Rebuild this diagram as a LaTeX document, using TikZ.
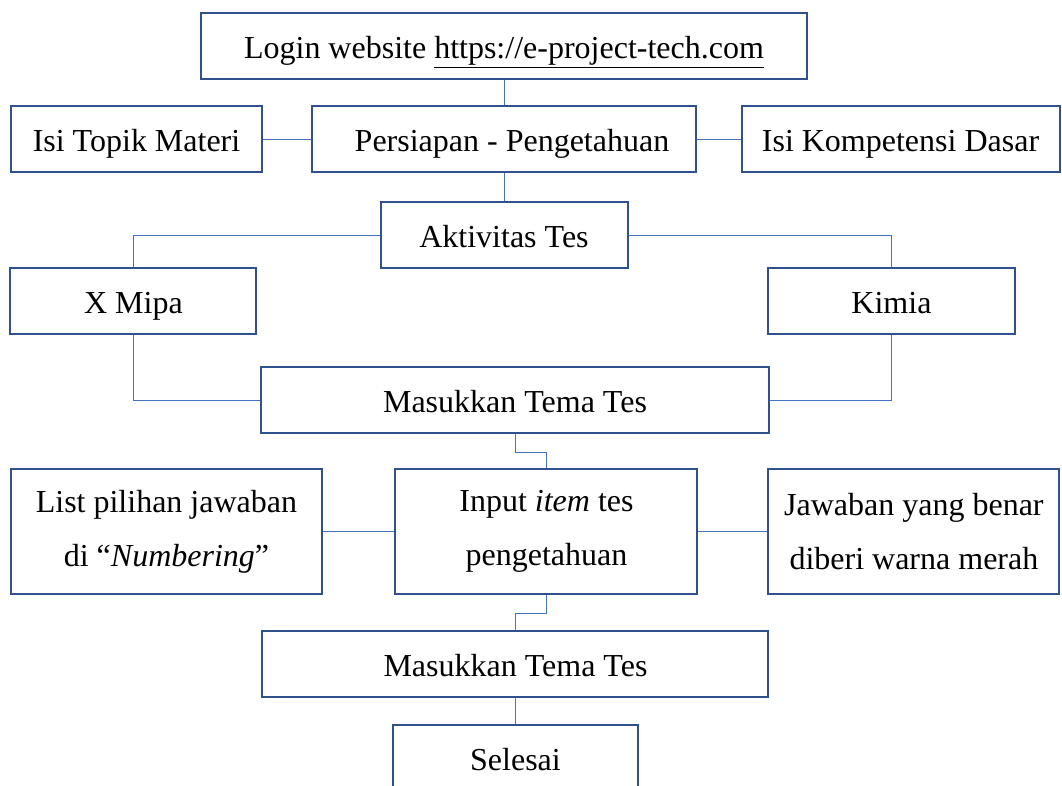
\documentclass[tikz,border=0pt]{standalone}
\usepackage{fontspec}
\setmainfont{Liberation Serif}
\usetikzlibrary{positioning}
\definecolor{boxline}{HTML}{2F528F}
\definecolor{linkline}{HTML}{4472C4}

\begin{document}
\begin{tikzpicture}[on grid,
    box/.style={draw=boxline,line width=1.5pt,inner sep=0pt,minimum height=49.5pt,
      align=center,font=\fontsize{24}{40.5}\selectfont},
    single/.style={box,text height=24pt,text depth=4.8pt},
    tall/.style={box,minimum height=93.75pt},
    link/.style={draw=linkline,line width=0.75pt}]

      \clip (-378pt,34.5pt) rectangle (418.5pt,-554.25pt);

      % top row
      \node[single,minimum width=454.5pt] (login) {Login website \underline{https://e-project-tech.com}};
      \node[single,minimum width=287.25pt] (persiapan) [below=69.75pt of login] {\hspace*{12pt}Persiapan - Pengetahuan};
      \node[single,minimum width=188.25pt] (topik) [left=275.6pt of persiapan] {Isi Topik Materi};
      \node[single,minimum width=238.5pt] (kompetensi) [right=297.4pt of persiapan] {Isi Kompetensi Dasar};

      % test activity
      \node[single,minimum width=185.25pt] (aktivitas) [below=72pt of persiapan] {Aktivitas Tes};
      \node[single,minimum width=184.5pt] (mipa) [below left=49.5pt and 277.9pt of aktivitas] {X Mipa};
      \node[single,minimum width=185.25pt] (kimia) [below right=49.5pt and 290.6pt of aktivitas] {Kimia};
      \node[single,minimum width=380.25pt] (tema) [below right=123.75pt and 8.25pt of aktivitas] {Masukkan Tema Tes};

      % items
      \node[tall,minimum width=226.5pt] (input) [below right=98.6pt and 23.6pt of tema] {Input \textit{item} tes\\pengetahuan};
      \node[tall,minimum width=233.25pt] (list) [left=285pt of input] {List pilihan jawaban\\di “\textit{Numbering}”};
      \node[tall,minimum width=218.25pt] (jawaban) [right=275.6pt of input] {Jawaban yang benar\\diberi warna merah};
      \node[single,minimum width=379.5pt] (tema2) [below left=99.4pt and 23.25pt of input] {Masukkan Tema Tes};
      \node[single,minimum width=183.75pt] (selesai) [below=70.5pt of tema2] {Selesai};

      \path[link]
        (login.south) edge (login.south |- persiapan.north)
        (topik) edge (persiapan)
        (persiapan) edge (kompetensi)
        (persiapan.south) edge (persiapan.south |- aktivitas.north)
        (list) edge (input)
        (input) edge (jawaban)
        (tema2.south) edge (tema2.south |- selesai.north);
      \draw[link] (aktivitas.west) -| (mipa.north);
      \draw[link] (aktivitas.east) -| (kimia.north);
      \draw[link] (mipa.south) |- (tema.west);
      \draw[link] (kimia.south) |- (tema.east);
      \draw[link] (tema.south) -- ++(0,-13.5pt) -| (input.north);
      \draw[link] (input.south) -- ++(0,-13.9pt) -| (tema2.north);
\end{tikzpicture}
\end{document}
